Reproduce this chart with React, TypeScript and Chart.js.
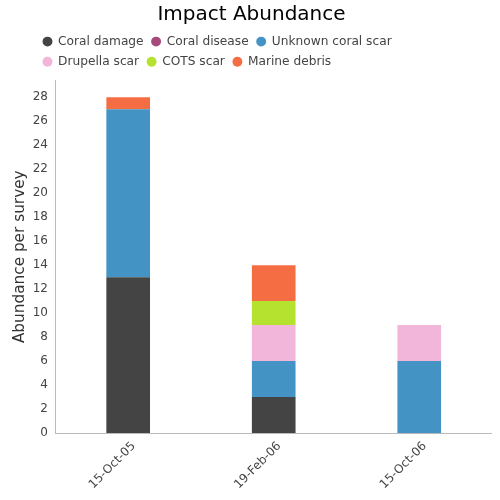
import React, { useEffect, useRef } from "react";
import { Chart, registerables } from "chart.js";

Chart.register(...registerables);

const categories = ["15-Oct-05", "19-Feb-06", "15-Oct-06"];
const coralDamage = [13, 3, 0];
const coralDisease = [0, 0, 0];
const unknownScar = [14, 3, 6];
const drupellaScar = [0, 3, 3];
const cotsScar = [0, 2, 0];
const marineDebris = [1, 3, 0];
const yTicks = [0, 2, 4, 6, 8, 10, 12, 14, 16, 18, 20, 22, 24, 26, 28];

const FONT = "'DejaVu Sans', Verdana, sans-serif";
const LEGEND_LEFT = 27;
const LEGEND_WIDTH = 430;
const LEGEND_EXTRA = 2.5;

const legendShift = {
  id: "legendShift",
  beforeLayout(chart: any) {
    const lg = chart.legend;
    if (lg && !lg._patched) {
      const orig = lg.update.bind(lg);
      lg.update = (w: number, h: number, m: any) => {
        orig(Math.min(w, LEGEND_WIDTH), h, m);
        lg.height += LEGEND_EXTRA;
      };
      lg._patched = true;
    }
  },
  afterLayout(chart: any) {
    const lg = chart.legend;
    if (lg) {
      lg.left = LEGEND_LEFT;
      lg.right = LEGEND_LEFT + LEGEND_WIDTH;
    }
  },
};

export default function App() {
  const ref = useRef<HTMLCanvasElement | null>(null);
  useEffect(() => {
    if (!ref.current) return;
    const mk = (label: string, data: number[], color: string) => ({
      label,
      data,
      backgroundColor: color,
      borderWidth: 0,
      barPercentage: 0.3,
      categoryPercentage: 1,
    });
    const chart = new Chart(ref.current, {
      type: "bar",
      data: {
        labels: categories,
        datasets: [
          mk("Coral damage", coralDamage, "#444444"),
          mk("Coral disease", coralDisease, "#a6497b"),
          mk("Unknown coral scar", unknownScar, "#4394c4"),
          mk("Drupella scar", drupellaScar, "#f1b6da"),
          mk("COTS scar", cotsScar, "#b5e22e"),
          mk("Marine debris", marineDebris, "#f46d43"),
        ],
      },
      plugins: [legendShift],
      options: {
        animation: false,
        responsive: false,
        maintainAspectRatio: false,
        layout: { padding: { left: 3, right: 0, top: 0, bottom: 2 } },
        plugins: {
          title: {
            display: true,
            text: "Impact Abundance",
            color: "#000",
            font: { family: FONT, size: 20, weight: "normal" },
            padding: { top: 2.5, bottom: 1 },
          },
          legend: {
            position: "top",
            align: "start",
            labels: {
              usePointStyle: true,
              pointStyle: "circle",
              boxWidth: 9,
              boxHeight: 7,
              padding: 8,
              color: "#444",
              font: { family: FONT, size: 12.2 },
            },
          },
          tooltip: { enabled: false },
        },
        scales: {
          x: {
            stacked: true,
            grid: { display: false, drawTicks: false },
            border: { color: "#bbb", width: 1 },
            ticks: {
              color: "#444",
              font: { family: FONT, size: 12 },
              maxRotation: 45,
              minRotation: 45,
              padding: 6,
              labelOffset: 5.5,
            },
          },
          y: {
            stacked: true,
            min: 0,
            max: 29.4,
            grid: { display: false, drawTicks: false },
            border: { color: "#bbb", width: 1 },
            afterBuildTicks: (axis: any) => {
              axis.ticks = yTicks.map((v) => ({ value: v }));
            },
            ticks: {
              color: "#444",
              font: { family: FONT, size: 12 },
              padding: 7.5,
            },
            title: {
              display: true,
              text: "Abundance per survey",
              color: "#333",
              font: { family: FONT, size: 15.3 },
              padding: { top: 0, bottom: -4.2 },
            },
          },
        },
      },
    });
    return () => chart.destroy();
  }, []);
  return (
    <div style={{ position: "absolute", left: 8, top: 0, width: 484, height: 500 }}>
      <canvas ref={ref} width={484} height={500} style={{ display: "block" }} />
    </div>
  );
}
